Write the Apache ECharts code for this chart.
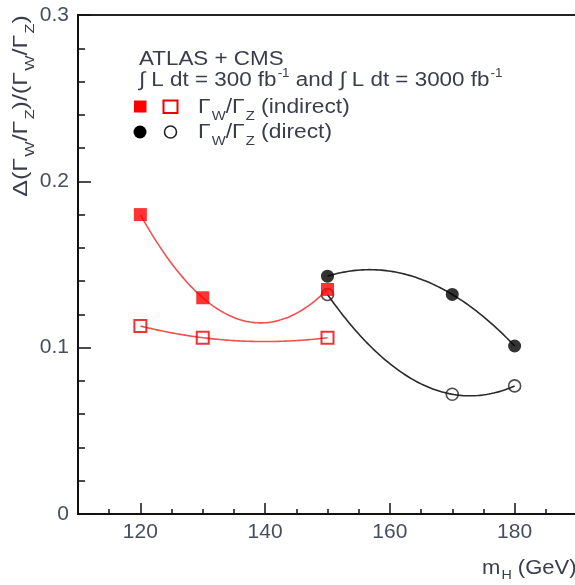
<!DOCTYPE html>
<html><head><meta charset="utf-8">
<script src="https://cdn.jsdelivr.net/npm/echarts@6/dist/echarts.min.js"></script>
<style>html,body{margin:0;padding:0;background:#fff}#c{width:575px;height:585px}</style>
</head><body><div id="c"></div>
<script>
// ---- data ----
const massIndirect = [120, 130, 150];
const indirect300 = [0.180, 0.130, 0.135];    // filled red squares
const indirect3000 = [0.113, 0.106, 0.106];   // open red squares
const massDirect = [150, 170, 180];
const direct300 = [0.143, 0.132, 0.101];      // filled black circles
const direct3000 = [0.132, 0.072, 0.077];     // open black circles
const xTickLabels = [120, 140, 160, 180];
const yTickLabels = ['0', '0.1', '0.2', '0.3'];

const FONT = 'Liberation Sans, Arial, Helvetica, sans-serif';
const TXT = '#3a3e4c';
const LBL = '#464e60';

function pairs(xs, ys) { return xs.map((x, i) => [x, ys[i]]); }

// smooth curve through the three points (quadratic through the data)
function curveSeries(xs, ys, color, width) {
  return {
    type: 'custom', silent: true, z: 1, clip: true,
    data: pairs(xs, ys), encode: { x: 0, y: 1 },
    renderItem: function (params, api) {
      if (params.dataIndex !== 0) return null;
      const f = function (x) {
        let s = 0;
        for (let i = 0; i < xs.length; i++) {
          let t = ys[i];
          for (let j = 0; j < xs.length; j++) if (j !== i) t *= (x - xs[j]) / (xs[i] - xs[j]);
          s += t;
        }
        return s;
      };
      const pts = [];
      const n = 80, a = xs[0], b = xs[xs.length - 1];
      for (let k = 0; k <= n; k++) { const x = a + (b - a) * k / n; pts.push(api.coord([x, f(x)])); }
      return { type: 'polyline', shape: { points: pts }, style: { stroke: color, lineWidth: width, fill: null } };
    }
  };
}

const chart = echarts.init(document.getElementById('c'), null, { renderer: 'canvas' });

const main = { fontSize: 20, fontFamily: FONT, fill: TXT };
const sub = { fontSize: 13, fontFamily: FONT, fill: TXT, padding: [18, 0, 0, 1] };
const sup = { fontSize: 12, fontFamily: FONT, fill: TXT, padding: [0, 0, 12, 1] };

chart.setOption({
  animation: false,
  backgroundColor: '#fff',
  grid: { left: 78, top: 15, width: 499, height: 499, outerBoundsMode: 'none', containLabel: false,
    show: true, borderColor: '#222', borderWidth: 2, backgroundColor: 'transparent' },
  xAxis: [{
    type: 'value', min: 110, max: 190, interval: 5, position: 'bottom',
    axisLine: { show: true, onZero: false, lineStyle: { color: '#111', width: 2 } },
    axisTick: { show: true, inside: true, length: 5, lineStyle: { color: '#111', width: 1.5 } },
    axisLabel: { show: true, margin: 8, fontSize: 21, fontFamily: FONT, color: LBL,
      formatter: function (v) { return xTickLabels.indexOf(v) >= 0 ? String(v) : ''; } },
    splitLine: { show: false }
  }, {
    type: 'value', min: 110, max: 190, position: 'bottom', gridIndex: 0,
    axisLine: { show: false },
    axisTick: { show: true, inside: true, length: 11, customValues: xTickLabels, lineStyle: { color: '#111', width: 1.5 } },
    axisLabel: { show: false },
    splitLine: { show: false }
  }],
  yAxis: {
    type: 'value', min: 0, max: 0.3, interval: 0.1,
    axisLine: { show: true, onZero: false, lineStyle: { color: '#111', width: 2 } },
    axisTick: { show: true, inside: true, length: 13, lineStyle: { color: '#111', width: 1.5 } },
    minorTick: { show: true, splitNumber: 5, length: 7, lineStyle: { color: '#111', width: 1.5 } },
    axisLabel: { margin: 9, fontSize: 21, fontFamily: FONT, color: LBL,
      formatter: function (v) { return yTickLabels[Math.round(v / 0.1)]; } },
    splitLine: { show: false }
  },
  series: [
    curveSeries(massIndirect, indirect300, '#f25050', 1.6),
    curveSeries(massIndirect, indirect3000, '#f25050', 1.6),
    curveSeries(massDirect, direct300, '#2a2a2a', 1.6),
    curveSeries(massDirect, direct3000, '#2a2a2a', 1.6),
    { type: 'scatter', z: 3, data: pairs(massIndirect, indirect3000), symbol: 'rect', symbolSize: 12,
      itemStyle: { color: 'rgba(0,0,0,0)', borderColor: '#ee0000', borderWidth: 2 } },
    { type: 'scatter', z: 3, data: pairs(massDirect, direct3000), symbol: 'circle', symbolSize: 12,
      itemStyle: { color: 'rgba(0,0,0,0)', borderColor: '#222', borderWidth: 1.6 } },
    { type: 'scatter', z: 4, data: pairs(massIndirect, indirect300), symbol: 'rect', symbolSize: 13,
      itemStyle: { color: '#ff0000' } },
    { type: 'scatter', z: 5, data: pairs(massDirect, direct300), symbol: 'circle', symbolSize: 13,
      itemStyle: { color: '#000' } }
  ],
  graphic: [
    // y-axis title
    { type: 'text', x: 21, y: 106, rotation: Math.PI / 2, scaleX: 1.25, z: 10,
      style: { text: '{m|Δ(Γ}{s|W}{m|/Γ}{s|Z}{m|)/(Γ}{s|W}{m|/Γ}{s|Z}{m|)}', align: 'center', verticalAlign: 'middle',
        rich: { m: main, s: sub } } },
    // x-axis title
    { type: 'text', x: 482, y: 568, scaleX: 1.1, z: 10,
      style: { text: '{m|m}{s|H}{m| (GeV)}', align: 'left', verticalAlign: 'middle',
        rich: { m: main, s: Object.assign({}, sub, { padding: [14, 0, 0, 1] }) } } },
    // legend text
    { type: 'text', x: 139, y: 59, scaleX: 1.12, z: 10,
      style: { text: 'ATLAS + CMS', align: 'left', verticalAlign: 'middle', font: '20px ' + FONT, fill: TXT } },
    { type: 'text', x: 139, y: 80, scaleX: 1.12, z: 10,
      style: { text: '{m|∫ L dt = 300 fb}{p|-1}{m| and ∫ L dt = 3000 fb}{p|-1}', align: 'left', verticalAlign: 'middle',
        rich: { m: main, p: sup } } },
    { type: 'text', x: 198, y: 107.5, scaleX: 1.14, z: 10,
      style: { text: '{m|Γ}{s|W}{m|/Γ}{s|Z}{m| (indirect)}', align: 'left', verticalAlign: 'middle',
        rich: { m: main, s: sub } } },
    { type: 'text', x: 198, y: 132.5, scaleX: 1.14, z: 10,
      style: { text: '{m|Γ}{s|W}{m|/Γ}{s|Z}{m| (direct)}', align: 'left', verticalAlign: 'middle',
        rich: { m: main, s: sub } } },
    // legend markers
    { type: 'rect', z: 10, shape: { x: 134, y: 100.5, width: 12.5, height: 12 }, style: { fill: '#ff0000' } },
    { type: 'rect', z: 10, shape: { x: 163.5, y: 100.5, width: 14, height: 12.5 }, style: { fill: null, stroke: '#ee0000', lineWidth: 2 } },
    { type: 'circle', z: 10, shape: { cx: 140, cy: 132, r: 6.5 }, style: { fill: '#000' } },
    { type: 'circle', z: 10, shape: { cx: 170.5, cy: 132, r: 6 }, style: { fill: null, stroke: '#222', lineWidth: 1.6 } }
  ]
});
</script>
</body></html>
